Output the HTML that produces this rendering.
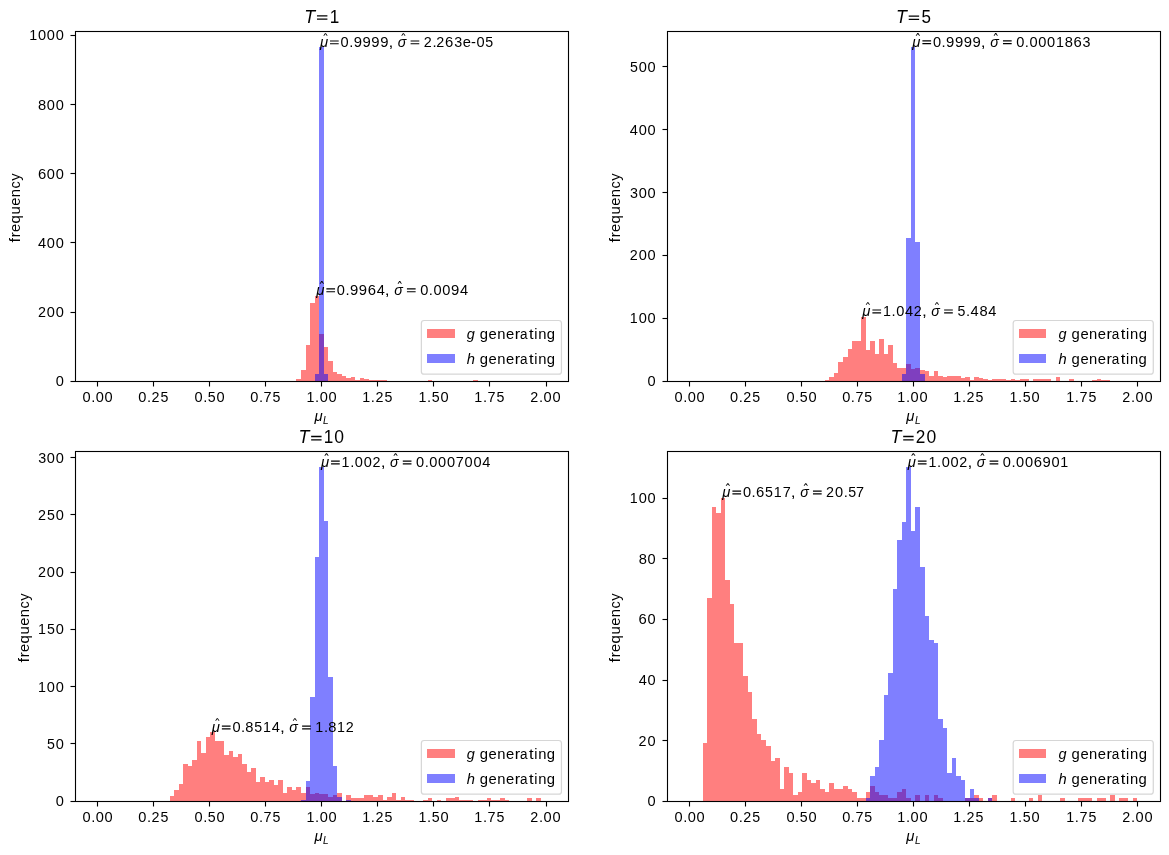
<!DOCTYPE html>
<html><head><meta charset="utf-8"><title>Histograms</title>
<style>html,body{margin:0;padding:0;background:#fff;}svg{display:block;will-change:transform;}</style></head>
<body><svg width="1169" height="855" viewBox="0 0 1169 855"><rect x="0" y="0" width="1169" height="855" fill="#fff"/><path d="M296 381H301V379H296ZM301 381H306V370H301ZM306 381H310V345H306ZM310 381H315V303H310ZM315 381H319V296H315ZM319 381H324V334H319ZM324 381H328V347H324ZM328 381H333V361H328ZM333 381H337V372H333ZM337 381H342V374H337ZM342 381H346V376H342ZM346 381H351V378H346ZM351 381H355V377H351ZM355 381H360V380H355ZM360 381H364V378H360ZM364 381H369V379H364ZM369 381H373V380H369ZM373 381H378V380H373ZM378 381H383V380H378ZM383 381H387V380H383ZM428 381H432V380H428ZM473 381H478V380H473Z" fill="#ff0000" fill-opacity="0.5"/><path d="M315 381H319V374H315ZM319 381H324V47H319ZM324 381H328V374H324Z" fill="#0000ff" fill-opacity="0.5"/><path d="M75 31H569V32H75Z M75 381H569V382H75ZM75 32H76V381H75Z M568 32H569V381H568Z" fill="#000"/><path d="M75 30H569V31H75Z M76 32H568V33H76ZM76 380H568V381H76Z M75 382H569V383H75ZM74 31H75V382H74Z M76 33H77V380H76ZM567 33H568V380H567Z M569 31H570V382H569Z" fill="#000" fill-opacity="0.055"/><path d="M97 382H98V386H97ZM153 382H154V386H153ZM209 382H210V386H209ZM265 382H266V386H265ZM321 382H322V386H321ZM377 382H378V386H377ZM433 382H434V386H433ZM489 382H490V386H489ZM546 382H547V386H546ZM71 381H75V382H71ZM71 312H75V313H71ZM71 242H75V243H71ZM71 173H75V174H71ZM71 104H75V105H71ZM71 35H75V36H71Z" fill="#000"/><path d="M97 386H98V387H97ZM153 386H154V387H153ZM209 386H210V387H209ZM265 386H266V387H265ZM321 386H322V387H321ZM377 386H378V387H377ZM433 386H434V387H433ZM489 386H490V387H489ZM546 386H547V387H546ZM70 381H71V382H70ZM70 312H71V313H70ZM70 242H71V243H70ZM70 173H71V174H70ZM70 104H71V105H70ZM70 35H71V36H70Z" fill="#000" fill-opacity="0.5"/><path d="M96 382H97V386.5H96Z M98 382H99V386.5H98ZM152 382H153V386.5H152Z M154 382H155V386.5H154ZM208 382H209V386.5H208Z M210 382H211V386.5H210ZM264 382H265V386.5H264Z M266 382H267V386.5H266ZM320 382H321V386.5H320Z M322 382H323V386.5H322ZM376 382H377V386.5H376Z M378 382H379V386.5H378ZM432 382H433V386.5H432Z M434 382H435V386.5H434ZM488 382H489V386.5H488Z M490 382H491V386.5H490ZM545 382H546V386.5H545Z M547 382H548V386.5H547ZM70.5 380H75V381H70.5Z M70.5 382H75V383H70.5ZM70.5 311H75V312H70.5Z M70.5 313H75V314H70.5ZM70.5 241H75V242H70.5Z M70.5 243H75V244H70.5ZM70.5 172H75V173H70.5Z M70.5 174H75V175H70.5ZM70.5 103H75V104H70.5Z M70.5 105H75V106H70.5ZM70.5 34H75V35H70.5Z M70.5 36H75V37H70.5Z" fill="#000" fill-opacity="0.055"/><path d="M825 381H829V380H825ZM829 381H834V377H829ZM834 381H838V373H834ZM838 381H843V362H838ZM843 381H848V357H843ZM848 381H852V349H848ZM852 381H857V341H852ZM857 381H861V341H857ZM861 381H866V317H861ZM866 381H870V350H866ZM870 381H875V341H870ZM875 381H879V354H875ZM879 381H884V339H879ZM884 381H888V354H884ZM888 381H893V345H888ZM893 381H897V363H893ZM897 381H902V368H897ZM902 381H906V368H902ZM906 381H911V364H906ZM911 381H915V369H911ZM915 381H920V368H915ZM920 381H925V370H920ZM925 381H929V371H925ZM929 381H934V376H929ZM934 381H938V371H934ZM938 381H943V376H938ZM943 381H947V377H943ZM947 381H952V376H947ZM952 381H956V376H952ZM956 381H961V376H956ZM961 381H965V378H961ZM965 381H970V377H965ZM970 381H974V380H970ZM974 381H979V377H974ZM979 381H983V378H979ZM983 381H988V379H983ZM988 381H992V380H988ZM992 381H997V379H992ZM997 381H1002V379H997ZM1002 381H1006V379H1002ZM1006 381H1011V380H1006ZM1011 381H1015V379H1011ZM1015 381H1020V380H1015ZM1020 381H1024V379H1020ZM1024 381H1029V379H1024ZM1033 381H1038V379H1033ZM1038 381H1042V379H1038ZM1042 381H1047V379H1042ZM1047 381H1051V379H1047ZM1056 381H1060V377H1056ZM1069 381H1074V379H1069ZM1092 381H1097V380H1092ZM1097 381H1101V379H1097ZM1101 381H1106V380H1101ZM1106 381H1110V380H1106Z" fill="#ff0000" fill-opacity="0.5"/><path d="M902 381H906V374H902ZM906 381H911V238H906ZM911 381H915V47H911ZM915 381H920V242H915ZM920 381H925V374H920Z" fill="#0000ff" fill-opacity="0.5"/><path d="M667 31H1161V32H667Z M667 381H1161V382H667ZM667 32H668V381H667Z M1160 32H1161V381H1160Z" fill="#000"/><path d="M667 30H1161V31H667Z M668 32H1160V33H668ZM668 380H1160V381H668Z M667 382H1161V383H667ZM666 31H667V382H666Z M668 33H669V380H668ZM1159 33H1160V380H1159Z M1161 31H1162V382H1161Z" fill="#000" fill-opacity="0.055"/><path d="M689 382H690V386H689ZM745 382H746V386H745ZM801 382H802V386H801ZM857 382H858V386H857ZM913 382H914V386H913ZM969 382H970V386H969ZM1025 382H1026V386H1025ZM1081 382H1082V386H1081ZM1137 382H1138V386H1137ZM663 381H667V382H663ZM663 318H667V319H663ZM663 255H667V256H663ZM663 192H667V193H663ZM663 129H667V130H663ZM663 66H667V67H663Z" fill="#000"/><path d="M689 386H690V387H689ZM745 386H746V387H745ZM801 386H802V387H801ZM857 386H858V387H857ZM913 386H914V387H913ZM969 386H970V387H969ZM1025 386H1026V387H1025ZM1081 386H1082V387H1081ZM1137 386H1138V387H1137ZM662 381H663V382H662ZM662 318H663V319H662ZM662 255H663V256H662ZM662 192H663V193H662ZM662 129H663V130H662ZM662 66H663V67H662Z" fill="#000" fill-opacity="0.5"/><path d="M688 382H689V386.5H688Z M690 382H691V386.5H690ZM744 382H745V386.5H744Z M746 382H747V386.5H746ZM800 382H801V386.5H800Z M802 382H803V386.5H802ZM856 382H857V386.5H856Z M858 382H859V386.5H858ZM912 382H913V386.5H912Z M914 382H915V386.5H914ZM968 382H969V386.5H968Z M970 382H971V386.5H970ZM1024 382H1025V386.5H1024Z M1026 382H1027V386.5H1026ZM1080 382H1081V386.5H1080Z M1082 382H1083V386.5H1082ZM1136 382H1137V386.5H1136Z M1138 382H1139V386.5H1138ZM662.5 380H667V381H662.5Z M662.5 382H667V383H662.5ZM662.5 317H667V318H662.5Z M662.5 319H667V320H662.5ZM662.5 254H667V255H662.5Z M662.5 256H667V257H662.5ZM662.5 191H667V192H662.5Z M662.5 193H667V194H662.5ZM662.5 128H667V129H662.5Z M662.5 130H667V131H662.5ZM662.5 65H667V66H662.5Z M662.5 67H667V68H662.5Z" fill="#000" fill-opacity="0.055"/><path d="M170 801H174V796H170ZM174 801H179V790H174ZM179 801H183V784H179ZM183 801H188V764H183ZM188 801H192V766H188ZM192 801H197V760H192ZM197 801H201V741H197ZM201 801H206V753H201ZM206 801H210V737H206ZM210 801H215V732H210ZM215 801H219V741H215ZM219 801H224V741H219ZM224 801H229V755H224ZM229 801H233V751H229ZM233 801H238V757H233ZM238 801H242V754H238ZM242 801H247V764H242ZM247 801H251V772H247ZM251 801H256V768H251ZM256 801H260V782H256ZM260 801H265V777H260ZM265 801H269V782H265ZM269 801H274V780H269ZM274 801H278V785H274ZM278 801H283V780H278ZM283 801H287V793H283ZM287 801H292V787H287ZM292 801H296V790H292ZM296 801H301V787H296ZM301 801H306V793H301ZM306 801H310V787H306ZM310 801H315V794H310ZM315 801H319V793H315ZM319 801H324V794H319ZM324 801H328V794H324ZM328 801H333V797H328ZM333 801H337V795H333ZM337 801H342V793H337ZM346 801H351V795H346ZM351 801H355V798H351ZM355 801H360V798H355ZM360 801H364V798H360ZM364 801H369V795H364ZM369 801H373V795H369ZM373 801H378V797H373ZM378 801H383V795H378ZM383 801H387V800H383ZM387 801H392V797H387ZM392 801H396V793H392ZM396 801H401V800H396ZM401 801H405V797H401ZM405 801H410V800H405ZM410 801H414V800H410ZM423 801H428V800H423ZM428 801H432V798H428ZM437 801H441V800H437ZM446 801H450V798H446ZM450 801H455V798H450ZM455 801H459V797H455ZM459 801H464V800H459ZM464 801H469V800H464ZM469 801H473V800H469ZM478 801H482V800H478ZM482 801H487V800H482ZM487 801H491V798H487ZM491 801H496V800H491ZM496 801H500V800H496ZM500 801H505V798H500ZM505 801H509V800H505ZM527 801H532V798H527ZM536 801H541V798H536Z" fill="#ff0000" fill-opacity="0.5"/><path d="M301 801H306V800H301ZM306 801H310V781H306ZM310 801H315V697H310ZM315 801H319V557H315ZM319 801H324V467H319ZM324 801H328V521H324ZM328 801H333V677H328ZM333 801H337V766H333ZM337 801H342V797H337ZM346 801H351V800H346Z" fill="#0000ff" fill-opacity="0.5"/><path d="M75 451H569V452H75Z M75 801H569V802H75ZM75 452H76V801H75Z M568 452H569V801H568Z" fill="#000"/><path d="M75 450H569V451H75Z M76 452H568V453H76ZM76 800H568V801H76Z M75 802H569V803H75ZM74 451H75V802H74Z M76 453H77V800H76ZM567 453H568V800H567Z M569 451H570V802H569Z" fill="#000" fill-opacity="0.055"/><path d="M97 802H98V806H97ZM153 802H154V806H153ZM209 802H210V806H209ZM265 802H266V806H265ZM321 802H322V806H321ZM377 802H378V806H377ZM433 802H434V806H433ZM489 802H490V806H489ZM546 802H547V806H546ZM71 801H75V802H71ZM71 743H75V744H71ZM71 686H75V687H71ZM71 629H75V630H71ZM71 572H75V573H71ZM71 514H75V515H71ZM71 457H75V458H71Z" fill="#000"/><path d="M97 806H98V807H97ZM153 806H154V807H153ZM209 806H210V807H209ZM265 806H266V807H265ZM321 806H322V807H321ZM377 806H378V807H377ZM433 806H434V807H433ZM489 806H490V807H489ZM546 806H547V807H546ZM70 801H71V802H70ZM70 743H71V744H70ZM70 686H71V687H70ZM70 629H71V630H70ZM70 572H71V573H70ZM70 514H71V515H70ZM70 457H71V458H70Z" fill="#000" fill-opacity="0.5"/><path d="M96 802H97V806.5H96Z M98 802H99V806.5H98ZM152 802H153V806.5H152Z M154 802H155V806.5H154ZM208 802H209V806.5H208Z M210 802H211V806.5H210ZM264 802H265V806.5H264Z M266 802H267V806.5H266ZM320 802H321V806.5H320Z M322 802H323V806.5H322ZM376 802H377V806.5H376Z M378 802H379V806.5H378ZM432 802H433V806.5H432Z M434 802H435V806.5H434ZM488 802H489V806.5H488Z M490 802H491V806.5H490ZM545 802H546V806.5H545Z M547 802H548V806.5H547ZM70.5 800H75V801H70.5Z M70.5 802H75V803H70.5ZM70.5 742H75V743H70.5Z M70.5 744H75V745H70.5ZM70.5 685H75V686H70.5Z M70.5 687H75V688H70.5ZM70.5 628H75V629H70.5Z M70.5 630H75V631H70.5ZM70.5 571H75V572H70.5Z M70.5 573H75V574H70.5ZM70.5 513H75V514H70.5Z M70.5 515H75V516H70.5ZM70.5 456H75V457H70.5Z M70.5 458H75V459H70.5Z" fill="#000" fill-opacity="0.055"/><path d="M703 801H707V743H703ZM707 801H712V598H707ZM712 801H716V507H712ZM716 801H721V513H716ZM721 801H725V498H721ZM725 801H730V580H725ZM730 801H734V604H730ZM734 801H739V643H734ZM739 801H743V643H739ZM743 801H748V676H743ZM748 801H752V692H748ZM752 801H757V719H752ZM757 801H761V734H757ZM761 801H766V740H761ZM766 801H771V746H766ZM771 801H775V761H771ZM775 801H780V758H775ZM780 801H784V789H780ZM784 801H789V767H784ZM789 801H793V773H789ZM793 801H798V795H793ZM798 801H802V792H798ZM802 801H807V773H802ZM807 801H811V780H807ZM811 801H816V783H811ZM816 801H820V780H816ZM820 801H825V789H820ZM825 801H829V792H825ZM829 801H834V783H829ZM834 801H838V789H834ZM838 801H843V789H838ZM843 801H848V786H843ZM848 801H852V789H848ZM852 801H857V792H852ZM857 801H861V798H857ZM861 801H866V798H861ZM866 801H870V792H866ZM870 801H875V786H870ZM875 801H879V792H875ZM879 801H884V795H879ZM884 801H888V795H884ZM888 801H893V798H888ZM893 801H897V798H893ZM897 801H902V792H897ZM902 801H906V789H902ZM906 801H911V798H906ZM915 801H920V795H915ZM925 801H929V795H925ZM934 801H938V795H934ZM938 801H943V798H938ZM965 801H970V798H965ZM970 801H974V798H970ZM974 801H979V795H974ZM979 801H983V798H979ZM988 801H992V798H988ZM992 801H997V795H992ZM1011 801H1015V798H1011ZM1029 801H1033V798H1029ZM1038 801H1042V795H1038ZM1060 801H1065V798H1060ZM1078 801H1083V798H1078ZM1083 801H1088V798H1083ZM1088 801H1092V798H1088ZM1097 801H1101V798H1097ZM1101 801H1106V798H1101ZM1110 801H1115V795H1110ZM1119 801H1124V798H1119ZM1124 801H1128V798H1124ZM1133 801H1137V798H1133Z" fill="#ff0000" fill-opacity="0.5"/><path d="M866 801H870V798H866ZM870 801H875V776H870ZM875 801H879V767H875ZM879 801H884V740H879ZM884 801H888V695H884ZM888 801H893V673H888ZM893 801H897V589H893ZM897 801H902V540H897ZM902 801H906V522H902ZM906 801H911V467H906ZM911 801H915V531H911ZM915 801H920V507H915ZM920 801H925V567H920ZM925 801H929V616H925ZM929 801H934V640H929ZM934 801H938V643H934ZM938 801H943V719H938ZM943 801H947V728H943ZM947 801H952V773H947ZM952 801H956V758H952ZM956 801H961V776H956ZM961 801H965V780H961ZM965 801H970V798H965ZM970 801H974V789H970ZM974 801H979V798H974ZM988 801H992V798H988Z" fill="#0000ff" fill-opacity="0.5"/><path d="M667 451H1161V452H667Z M667 801H1161V802H667ZM667 452H668V801H667Z M1160 452H1161V801H1160Z" fill="#000"/><path d="M667 450H1161V451H667Z M668 452H1160V453H668ZM668 800H1160V801H668Z M667 802H1161V803H667ZM666 451H667V802H666Z M668 453H669V800H668ZM1159 453H1160V800H1159Z M1161 451H1162V802H1161Z" fill="#000" fill-opacity="0.055"/><path d="M689 802H690V806H689ZM745 802H746V806H745ZM801 802H802V806H801ZM857 802H858V806H857ZM913 802H914V806H913ZM969 802H970V806H969ZM1025 802H1026V806H1025ZM1081 802H1082V806H1081ZM1137 802H1138V806H1137ZM663 801H667V802H663ZM663 740H667V741H663ZM663 680H667V681H663ZM663 619H667V620H663ZM663 558H667V559H663ZM663 498H667V499H663Z" fill="#000"/><path d="M689 806H690V807H689ZM745 806H746V807H745ZM801 806H802V807H801ZM857 806H858V807H857ZM913 806H914V807H913ZM969 806H970V807H969ZM1025 806H1026V807H1025ZM1081 806H1082V807H1081ZM1137 806H1138V807H1137ZM662 801H663V802H662ZM662 740H663V741H662ZM662 680H663V681H662ZM662 619H663V620H662ZM662 558H663V559H662ZM662 498H663V499H662Z" fill="#000" fill-opacity="0.5"/><path d="M688 802H689V806.5H688Z M690 802H691V806.5H690ZM744 802H745V806.5H744Z M746 802H747V806.5H746ZM800 802H801V806.5H800Z M802 802H803V806.5H802ZM856 802H857V806.5H856Z M858 802H859V806.5H858ZM912 802H913V806.5H912Z M914 802H915V806.5H914ZM968 802H969V806.5H968Z M970 802H971V806.5H970ZM1024 802H1025V806.5H1024Z M1026 802H1027V806.5H1026ZM1080 802H1081V806.5H1080Z M1082 802H1083V806.5H1082ZM1136 802H1137V806.5H1136Z M1138 802H1139V806.5H1138ZM662.5 800H667V801H662.5Z M662.5 802H667V803H662.5ZM662.5 739H667V740H662.5Z M662.5 741H667V742H662.5ZM662.5 679H667V680H662.5Z M662.5 681H667V682H662.5ZM662.5 618H667V619H662.5Z M662.5 620H667V621H662.5ZM662.5 557H667V558H662.5Z M662.5 559H667V560H662.5ZM662.5 497H667V498H662.5Z M662.5 499H667V500H662.5Z" fill="#000" fill-opacity="0.055"/><rect x="421.36" y="320.50" width="140.10" height="53.70" rx="2.78" ry="2.78" fill="#fff" fill-opacity="0.8" stroke="#ccc" stroke-opacity="0.8" stroke-width="1.2"/><rect x="427" y="329" width="28" height="9" fill="#ff0000" fill-opacity="0.5"/><rect x="427" y="354" width="28" height="9" fill="#0000ff" fill-opacity="0.5"/><rect x="1013.18" y="320.50" width="140.10" height="53.70" rx="2.78" ry="2.78" fill="#fff" fill-opacity="0.8" stroke="#ccc" stroke-opacity="0.8" stroke-width="1.2"/><rect x="1019" y="329" width="27" height="9" fill="#ff0000" fill-opacity="0.5"/><rect x="1019" y="354" width="27" height="9" fill="#0000ff" fill-opacity="0.5"/><rect x="421.36" y="740.50" width="140.10" height="53.70" rx="2.78" ry="2.78" fill="#fff" fill-opacity="0.8" stroke="#ccc" stroke-opacity="0.8" stroke-width="1.2"/><rect x="427" y="749" width="28" height="9" fill="#ff0000" fill-opacity="0.5"/><rect x="427" y="774" width="28" height="9" fill="#0000ff" fill-opacity="0.5"/><rect x="1013.18" y="740.50" width="140.10" height="53.70" rx="2.78" ry="2.78" fill="#fff" fill-opacity="0.8" stroke="#ccc" stroke-opacity="0.8" stroke-width="1.2"/><rect x="1019" y="749" width="27" height="9" fill="#ff0000" fill-opacity="0.5"/><rect x="1019" y="774" width="27" height="9" fill="#0000ff" fill-opacity="0.5"/><g style="font-family: 'Liberation Sans', sans-serif;" fill="#000"><g id="text_1"><text transform="translate(86.61 0) scale(1.002 1) translate(-86.61 0)" x="82.55" y="402.31" font-size="14.58">0</text><text transform="translate(93.23 0) scale(1.015 1) translate(-93.23 0)" x="91.21" y="402.31" font-size="14.58">.</text><text transform="translate(99.86 0) scale(1.002 1) translate(-99.86 0)" x="95.81" y="402.31" font-size="14.58">0</text><text transform="translate(108.70 0) scale(1.002 1) translate(-108.70 0)" x="104.64" y="402.31" font-size="14.58">0</text></g><g id="text_2"><text transform="translate(142.31 0) scale(1.002 1) translate(-142.31 0)" x="138.26" y="402.31" font-size="14.58">0</text><text transform="translate(148.94 0) scale(1.015 1) translate(-148.94 0)" x="146.91" y="402.31" font-size="14.58">.</text><text transform="translate(155.38 0) scale(0.984 1) translate(-155.38 0)" x="151.33" y="402.31" font-size="14.58">2</text><text transform="translate(164.33 0) scale(0.974 1) translate(-164.33 0)" x="160.29" y="402.31" font-size="14.58">5</text></g><g id="text_3"><text transform="translate(198.58 0) scale(1.002 1) translate(-198.58 0)" x="194.52" y="402.31" font-size="14.58">0</text><text transform="translate(205.20 0) scale(1.015 1) translate(-205.20 0)" x="203.17" y="402.31" font-size="14.58">.</text><text transform="translate(211.76 0) scale(0.974 1) translate(-211.76 0)" x="207.72" y="402.31" font-size="14.58">5</text><text transform="translate(220.66 0) scale(1.002 1) translate(-220.66 0)" x="216.61" y="402.31" font-size="14.58">0</text></g><g id="text_4"><text transform="translate(254.34 0) scale(1.002 1) translate(-254.34 0)" x="250.28" y="402.31" font-size="14.58">0</text><text transform="translate(260.96 0) scale(1.015 1) translate(-260.96 0)" x="258.94" y="402.31" font-size="14.58">.</text><text transform="translate(267.57 0) scale(0.991 1) translate(-267.57 0)" x="263.51" y="402.31" font-size="14.58">7</text><text transform="translate(276.36 0) scale(0.974 1) translate(-276.36 0)" x="272.32" y="402.31" font-size="14.58">5</text></g><g id="text_5"><text transform="translate(310.60 0) scale(0.979 1) translate(-310.60 0)" x="306.34" y="402.31" font-size="14.58">1</text><text transform="translate(317.09 0) scale(1.015 1) translate(-317.09 0)" x="315.07" y="402.31" font-size="14.58">.</text><text transform="translate(323.72 0) scale(1.002 1) translate(-323.72 0)" x="319.67" y="402.31" font-size="14.58">0</text><text transform="translate(332.56 0) scale(1.002 1) translate(-332.56 0)" x="328.51" y="402.31" font-size="14.58">0</text></g><g id="text_6"><text transform="translate(366.44 0) scale(0.979 1) translate(-366.44 0)" x="362.19" y="402.31" font-size="14.58">1</text><text transform="translate(372.94 0) scale(1.015 1) translate(-372.94 0)" x="370.91" y="402.31" font-size="14.58">.</text><text transform="translate(379.38 0) scale(0.984 1) translate(-379.38 0)" x="375.33" y="402.31" font-size="14.58">2</text><text transform="translate(388.34 0) scale(0.974 1) translate(-388.34 0)" x="384.29" y="402.31" font-size="14.58">5</text></g><g id="text_7"><text transform="translate(422.67 0) scale(0.979 1) translate(-422.67 0)" x="418.42" y="402.31" font-size="14.58">1</text><text transform="translate(429.17 0) scale(1.015 1) translate(-429.17 0)" x="427.15" y="402.31" font-size="14.58">.</text><text transform="translate(435.73 0) scale(0.974 1) translate(-435.73 0)" x="431.69" y="402.31" font-size="14.58">5</text><text transform="translate(444.64 0) scale(1.002 1) translate(-444.64 0)" x="440.58" y="402.31" font-size="14.58">0</text></g><g id="text_8"><text transform="translate(478.50 0) scale(0.979 1) translate(-478.50 0)" x="474.24" y="402.31" font-size="14.58">1</text><text transform="translate(484.99 0) scale(1.015 1) translate(-484.99 0)" x="482.97" y="402.31" font-size="14.58">.</text><text transform="translate(491.60 0) scale(0.991 1) translate(-491.60 0)" x="487.54" y="402.31" font-size="14.58">7</text><text transform="translate(500.39 0) scale(0.974 1) translate(-500.39 0)" x="496.35" y="402.31" font-size="14.58">5</text></g><g id="text_9"><text transform="translate(534.22 0) scale(0.984 1) translate(-534.22 0)" x="530.17" y="402.31" font-size="14.58">2</text><text transform="translate(541.03 0) scale(1.015 1) translate(-541.03 0)" x="539.00" y="402.31" font-size="14.58">.</text><text transform="translate(547.66 0) scale(1.002 1) translate(-547.66 0)" x="543.60" y="402.31" font-size="14.58">0</text><text transform="translate(556.49 0) scale(1.002 1) translate(-556.49 0)" x="552.44" y="402.31" font-size="14.58">0</text></g><g id="text_10"><text transform="translate(318.27 0) scale(1.021 1) translate(-318.27 0)" x="314.54" y="421.24" font-size="14.58" font-style="italic">μ</text><text transform="translate(325.63 0) scale(0.992 1) translate(-325.63 0)" x="322.99" y="423.52" font-size="10.21" font-style="italic">L</text></g><g id="text_11"><text transform="translate(59.78 0) scale(1.002 1) translate(-59.78 0)" x="55.72" y="386.35" font-size="14.58">0</text></g><g id="text_12"><text transform="translate(41.92 0) scale(0.984 1) translate(-41.92 0)" x="37.86" y="317.21" font-size="14.58">2</text><text transform="translate(50.94 0) scale(1.002 1) translate(-50.94 0)" x="46.88" y="317.21" font-size="14.58">0</text><text transform="translate(59.78 0) scale(1.002 1) translate(-59.78 0)" x="55.72" y="317.21" font-size="14.58">0</text></g><g id="text_13"><text transform="translate(42.06 0) scale(1.002 1) translate(-42.06 0)" x="38.05" y="247.64" font-size="14.58">4</text><text transform="translate(50.94 0) scale(1.002 1) translate(-50.94 0)" x="46.88" y="247.64" font-size="14.58">0</text><text transform="translate(59.78 0) scale(1.002 1) translate(-59.78 0)" x="55.72" y="247.64" font-size="14.58">0</text></g><g id="text_14"><text transform="translate(42.15 0) scale(1.020 1) translate(-42.15 0)" x="38.05" y="179.39" font-size="14.58">6</text><text transform="translate(50.94 0) scale(1.002 1) translate(-50.94 0)" x="46.88" y="179.39" font-size="14.58">0</text><text transform="translate(59.78 0) scale(1.002 1) translate(-59.78 0)" x="55.72" y="179.39" font-size="14.58">0</text></g><g id="text_15"><text transform="translate(42.10 0) scale(1.007 1) translate(-42.10 0)" x="38.05" y="110.48" font-size="14.58">8</text><text transform="translate(50.94 0) scale(1.002 1) translate(-50.94 0)" x="46.88" y="110.48" font-size="14.58">0</text><text transform="translate(59.78 0) scale(1.002 1) translate(-59.78 0)" x="55.72" y="110.48" font-size="14.58">0</text></g><g id="text_16"><text transform="translate(33.39 0) scale(0.979 1) translate(-33.39 0)" x="29.14" y="40.22" font-size="14.58">1</text><text transform="translate(42.10 0) scale(1.002 1) translate(-42.10 0)" x="38.05" y="40.22" font-size="14.58">0</text><text transform="translate(50.94 0) scale(1.002 1) translate(-50.94 0)" x="46.88" y="40.22" font-size="14.58">0</text><text transform="translate(59.78 0) scale(1.002 1) translate(-59.78 0)" x="55.72" y="40.22" font-size="14.58">0</text></g><g id="text_17" transform="translate(20.39 207.82) rotate(-90.0)"><text transform="translate(-32.25 0) scale(1.125 1) translate(32.25 0)" x="-34.39" y="0.00" font-size="14.58">f</text><text transform="translate(-26.61 0) scale(1.110 1) translate(26.61 0)" x="-29.40" y="0.00" font-size="14.58">r</text><text transform="translate(-20.10 0) scale(1.014 1) translate(20.10 0)" x="-24.14" y="0.00" font-size="14.58">e</text><text transform="translate(-11.68 0) scale(1.017 1) translate(11.68 0)" x="-15.57" y="0.00" font-size="14.58">q</text><text transform="translate(-2.66 0) scale(1.013 1) translate(2.66 0)" x="-6.71" y="0.00" font-size="14.58">u</text><text transform="translate(6.07 0) scale(1.014 1) translate(-6.07 0)" x="2.03" y="0.00" font-size="14.58">e</text><text transform="translate(14.77 0) scale(1.013 1) translate(-14.77 0)" x="10.70" y="0.00" font-size="14.58">n</text><text transform="translate(22.90 0) scale(0.978 1) translate(-22.90 0)" x="19.14" y="0.00" font-size="14.58">c</text><text transform="translate(30.87 0) scale(1.011 1) translate(-30.87 0)" x="27.22" y="0.00" font-size="14.58">y</text></g><g id="text_18"><path d="M326.37 288.37H335.06V289.51H326.37Z M326.37 291.14H335.06V292.29H326.37Z"/><polygon points="321.32,281.11 322.33,281.11 323.99,283.66 323.05,283.66 321.83,282.00 320.60,283.66 319.66,283.66"/><text transform="translate(340.95 0) scale(1.002 1) translate(-340.95 0)" x="336.89" y="294.68" font-size="14.58">0</text><text transform="translate(347.57 0) scale(1.015 1) translate(-347.57 0)" x="345.54" y="294.68" font-size="14.58">.</text><text transform="translate(354.15 0) scale(1.018 1) translate(-354.15 0)" x="350.10" y="294.68" font-size="14.58">9</text><text transform="translate(362.99 0) scale(1.018 1) translate(-362.99 0)" x="358.93" y="294.68" font-size="14.58">9</text><text transform="translate(371.92 0) scale(1.020 1) translate(-371.92 0)" x="367.82" y="294.68" font-size="14.58">6</text><text transform="translate(380.66 0) scale(1.002 1) translate(-380.66 0)" x="376.65" y="294.68" font-size="14.58">4</text><text transform="translate(387.19 0) scale(1.194 1) translate(-387.19 0)" x="385.17" y="294.68" font-size="14.58">,</text><polygon points="399.22,281.11 400.22,281.11 401.88,283.66 400.94,283.66 399.72,282.00 398.50,283.66 397.55,283.66"/><path d="M406.94 288.37H415.63V289.51H406.94Z M406.94 291.14H415.63V292.29H406.94Z"/><text transform="translate(424.22 0) scale(1.002 1) translate(-424.22 0)" x="420.17" y="294.68" font-size="14.58">0</text><text transform="translate(430.85 0) scale(1.015 1) translate(-430.85 0)" x="428.82" y="294.68" font-size="14.58">.</text><text transform="translate(437.48 0) scale(1.002 1) translate(-437.48 0)" x="433.42" y="294.68" font-size="14.58">0</text><text transform="translate(446.31 0) scale(1.002 1) translate(-446.31 0)" x="442.26" y="294.68" font-size="14.58">0</text><text transform="translate(455.10 0) scale(1.018 1) translate(-455.10 0)" x="451.05" y="294.68" font-size="14.58">9</text><text transform="translate(463.94 0) scale(1.002 1) translate(-463.94 0)" x="459.93" y="294.68" font-size="14.58">4</text><text transform="translate(320.08 0) scale(1.021 1) translate(-320.08 0)" x="316.35" y="294.68" font-size="14.58" font-style="italic">μ</text><text transform="translate(398.93 0) scale(0.977 1) translate(-398.93 0)" x="394.06" y="294.68" font-size="14.58" font-style="italic">σ</text></g><g id="text_19"><path d="M330.01 40.42H338.71V41.56H330.01Z M330.01 43.19H338.71V44.34H330.01Z"/><polygon points="324.97,33.16 325.98,33.16 327.64,35.71 326.69,35.71 325.47,34.05 324.25,35.71 323.31,35.71"/><text transform="translate(344.59 0) scale(1.002 1) translate(-344.59 0)" x="340.54" y="46.73" font-size="14.58">0</text><text transform="translate(351.22 0) scale(1.015 1) translate(-351.22 0)" x="349.19" y="46.73" font-size="14.58">.</text><text transform="translate(357.80 0) scale(1.018 1) translate(-357.80 0)" x="353.75" y="46.73" font-size="14.58">9</text><text transform="translate(366.63 0) scale(1.018 1) translate(-366.63 0)" x="362.58" y="46.73" font-size="14.58">9</text><text transform="translate(375.47 0) scale(1.018 1) translate(-375.47 0)" x="371.42" y="46.73" font-size="14.58">9</text><text transform="translate(384.31 0) scale(1.018 1) translate(-384.31 0)" x="380.26" y="46.73" font-size="14.58">9</text><text transform="translate(390.84 0) scale(1.194 1) translate(-390.84 0)" x="388.82" y="46.73" font-size="14.58">,</text><polygon points="402.86,33.16 403.87,33.16 405.53,35.71 404.59,35.71 403.37,34.05 402.15,35.71 401.20,35.71"/><path d="M410.59 40.42H419.28V41.56H410.59Z M410.59 43.19H419.28V44.34H410.59Z"/><text transform="translate(427.69 0) scale(0.984 1) translate(-427.69 0)" x="423.64" y="46.73" font-size="14.58">2</text><text transform="translate(434.50 0) scale(1.015 1) translate(-434.50 0)" x="432.47" y="46.73" font-size="14.58">.</text><text transform="translate(440.25 0) scale(0.984 1) translate(-440.25 0)" x="436.19" y="46.73" font-size="14.58">2</text><text transform="translate(449.32 0) scale(1.020 1) translate(-449.32 0)" x="445.21" y="46.73" font-size="14.58">6</text><text transform="translate(458.08 0) scale(0.982 1) translate(-458.08 0)" x="454.07" y="46.73" font-size="14.58">3</text><text transform="translate(466.81 0) scale(1.014 1) translate(-466.81 0)" x="462.77" y="46.73" font-size="14.58">e</text><text transform="translate(473.58 0) scale(1.013 1) translate(-473.58 0)" x="471.15" y="46.73" font-size="14.58">-</text><text transform="translate(480.50 0) scale(1.002 1) translate(-480.50 0)" x="476.44" y="46.73" font-size="14.58">0</text><text transform="translate(489.27 0) scale(0.974 1) translate(-489.27 0)" x="485.22" y="46.73" font-size="14.58">5</text><text transform="translate(323.72 0) scale(1.021 1) translate(-323.72 0)" x="320.00" y="46.73" font-size="14.58" font-style="italic">μ</text><text transform="translate(402.58 0) scale(0.977 1) translate(-402.58 0)" x="397.71" y="46.73" font-size="14.58" font-style="italic">σ</text></g><g id="text_20"><text transform="translate(311.02 0) scale(1.019 1) translate(-311.02 0)" x="304.37" y="22.70" font-size="17.50" font-style="italic">T</text><path d="M316.98 15.13H327.41V16.50H316.98Z M316.98 18.45H327.41V19.83H316.98Z"/><text transform="translate(334.63 0) scale(0.979 1) translate(-334.63 0)" x="329.52" y="22.70" font-size="17.50">1</text></g><g id="text_23"><text transform="translate(678.60 0) scale(1.002 1) translate(-678.60 0)" x="674.54" y="402.31" font-size="14.58">0</text><text transform="translate(685.22 0) scale(1.015 1) translate(-685.22 0)" x="683.20" y="402.31" font-size="14.58">.</text><text transform="translate(691.85 0) scale(1.002 1) translate(-691.85 0)" x="687.80" y="402.31" font-size="14.58">0</text><text transform="translate(700.69 0) scale(1.002 1) translate(-700.69 0)" x="696.63" y="402.31" font-size="14.58">0</text></g><g id="text_24"><text transform="translate(734.18 0) scale(1.002 1) translate(-734.18 0)" x="730.13" y="402.31" font-size="14.58">0</text><text transform="translate(740.81 0) scale(1.015 1) translate(-740.81 0)" x="738.78" y="402.31" font-size="14.58">.</text><text transform="translate(747.25 0) scale(0.984 1) translate(-747.25 0)" x="743.20" y="402.31" font-size="14.58">2</text><text transform="translate(756.20 0) scale(0.974 1) translate(-756.20 0)" x="752.16" y="402.31" font-size="14.58">5</text></g><g id="text_25"><text transform="translate(790.58 0) scale(1.002 1) translate(-790.58 0)" x="786.52" y="402.31" font-size="14.58">0</text><text transform="translate(797.20 0) scale(1.015 1) translate(-797.20 0)" x="795.17" y="402.31" font-size="14.58">.</text><text transform="translate(803.76 0) scale(0.974 1) translate(-803.76 0)" x="799.72" y="402.31" font-size="14.58">5</text><text transform="translate(812.66 0) scale(1.002 1) translate(-812.66 0)" x="808.61" y="402.31" font-size="14.58">0</text></g><g id="text_26"><text transform="translate(846.27 0) scale(1.002 1) translate(-846.27 0)" x="842.21" y="402.31" font-size="14.58">0</text><text transform="translate(852.89 0) scale(1.015 1) translate(-852.89 0)" x="850.87" y="402.31" font-size="14.58">.</text><text transform="translate(859.50 0) scale(0.991 1) translate(-859.50 0)" x="855.44" y="402.31" font-size="14.58">7</text><text transform="translate(868.29 0) scale(0.974 1) translate(-868.29 0)" x="864.25" y="402.31" font-size="14.58">5</text></g><g id="text_27"><text transform="translate(901.55 0) scale(0.979 1) translate(-901.55 0)" x="897.29" y="402.31" font-size="14.58">1</text><text transform="translate(908.04 0) scale(1.015 1) translate(-908.04 0)" x="906.02" y="402.31" font-size="14.58">.</text><text transform="translate(914.67 0) scale(1.002 1) translate(-914.67 0)" x="910.62" y="402.31" font-size="14.58">0</text><text transform="translate(923.51 0) scale(1.002 1) translate(-923.51 0)" x="919.46" y="402.31" font-size="14.58">0</text></g><g id="text_28"><text transform="translate(957.48 0) scale(0.979 1) translate(-957.48 0)" x="953.23" y="402.31" font-size="14.58">1</text><text transform="translate(963.98 0) scale(1.015 1) translate(-963.98 0)" x="961.95" y="402.31" font-size="14.58">.</text><text transform="translate(970.42 0) scale(0.984 1) translate(-970.42 0)" x="966.37" y="402.31" font-size="14.58">2</text><text transform="translate(979.38 0) scale(0.974 1) translate(-979.38 0)" x="975.33" y="402.31" font-size="14.58">5</text></g><g id="text_29"><text transform="translate(1013.67 0) scale(0.979 1) translate(-1013.67 0)" x="1009.42" y="402.31" font-size="14.58">1</text><text transform="translate(1020.17 0) scale(1.015 1) translate(-1020.17 0)" x="1018.15" y="402.31" font-size="14.58">.</text><text transform="translate(1026.73 0) scale(0.974 1) translate(-1026.73 0)" x="1022.69" y="402.31" font-size="14.58">5</text><text transform="translate(1035.64 0) scale(1.002 1) translate(-1035.64 0)" x="1031.58" y="402.31" font-size="14.58">0</text></g><g id="text_30"><text transform="translate(1070.43 0) scale(0.979 1) translate(-1070.43 0)" x="1066.18" y="402.31" font-size="14.58">1</text><text transform="translate(1076.93 0) scale(1.015 1) translate(-1076.93 0)" x="1074.90" y="402.31" font-size="14.58">.</text><text transform="translate(1083.54 0) scale(0.991 1) translate(-1083.54 0)" x="1079.48" y="402.31" font-size="14.58">7</text><text transform="translate(1092.33 0) scale(0.974 1) translate(-1092.33 0)" x="1088.29" y="402.31" font-size="14.58">5</text></g><g id="text_31"><text transform="translate(1126.22 0) scale(0.984 1) translate(-1126.22 0)" x="1122.17" y="402.31" font-size="14.58">2</text><text transform="translate(1133.03 0) scale(1.015 1) translate(-1133.03 0)" x="1131.00" y="402.31" font-size="14.58">.</text><text transform="translate(1139.66 0) scale(1.002 1) translate(-1139.66 0)" x="1135.60" y="402.31" font-size="14.58">0</text><text transform="translate(1148.49 0) scale(1.002 1) translate(-1148.49 0)" x="1144.44" y="402.31" font-size="14.58">0</text></g><g id="text_32"><text transform="translate(910.18 0) scale(1.021 1) translate(-910.18 0)" x="906.45" y="421.26" font-size="14.58" font-style="italic">μ</text><text transform="translate(917.54 0) scale(0.992 1) translate(-917.54 0)" x="914.90" y="423.54" font-size="10.21" font-style="italic">L</text></g><g id="text_33"><text transform="translate(651.60 0) scale(1.002 1) translate(-651.60 0)" x="647.54" y="386.34" font-size="14.58">0</text></g><g id="text_34"><text transform="translate(634.05 0) scale(0.979 1) translate(-634.05 0)" x="629.79" y="322.93" font-size="14.58">1</text><text transform="translate(642.76 0) scale(1.002 1) translate(-642.76 0)" x="638.70" y="322.93" font-size="14.58">0</text><text transform="translate(651.60 0) scale(1.002 1) translate(-651.60 0)" x="647.54" y="322.93" font-size="14.58">0</text></g><g id="text_35"><text transform="translate(633.74 0) scale(0.984 1) translate(-633.74 0)" x="629.68" y="260.08" font-size="14.58">2</text><text transform="translate(642.76 0) scale(1.002 1) translate(-642.76 0)" x="638.70" y="260.08" font-size="14.58">0</text><text transform="translate(651.60 0) scale(1.002 1) translate(-651.60 0)" x="647.54" y="260.08" font-size="14.58">0</text></g><g id="text_36"><text transform="translate(633.90 0) scale(0.982 1) translate(-633.90 0)" x="629.89" y="197.78" font-size="14.58">3</text><text transform="translate(642.76 0) scale(1.002 1) translate(-642.76 0)" x="638.70" y="197.78" font-size="14.58">0</text><text transform="translate(651.60 0) scale(1.002 1) translate(-651.60 0)" x="647.54" y="197.78" font-size="14.58">0</text></g><g id="text_37"><text transform="translate(633.88 0) scale(1.002 1) translate(-633.88 0)" x="629.87" y="134.84" font-size="14.58">4</text><text transform="translate(642.76 0) scale(1.002 1) translate(-642.76 0)" x="638.70" y="134.84" font-size="14.58">0</text><text transform="translate(651.60 0) scale(1.002 1) translate(-651.60 0)" x="647.54" y="134.84" font-size="14.58">0</text></g><g id="text_38"><text transform="translate(633.86 0) scale(0.974 1) translate(-633.86 0)" x="629.81" y="72.23" font-size="14.58">5</text><text transform="translate(642.76 0) scale(1.002 1) translate(-642.76 0)" x="638.70" y="72.23" font-size="14.58">0</text><text transform="translate(651.60 0) scale(1.002 1) translate(-651.60 0)" x="647.54" y="72.23" font-size="14.58">0</text></g><g id="text_39" transform="translate(620.04 207.82) rotate(-90.0)"><text transform="translate(-32.25 0) scale(1.125 1) translate(32.25 0)" x="-34.39" y="0.00" font-size="14.58">f</text><text transform="translate(-26.61 0) scale(1.110 1) translate(26.61 0)" x="-29.40" y="0.00" font-size="14.58">r</text><text transform="translate(-20.10 0) scale(1.014 1) translate(20.10 0)" x="-24.14" y="0.00" font-size="14.58">e</text><text transform="translate(-11.68 0) scale(1.017 1) translate(11.68 0)" x="-15.57" y="0.00" font-size="14.58">q</text><text transform="translate(-2.66 0) scale(1.013 1) translate(2.66 0)" x="-6.71" y="0.00" font-size="14.58">u</text><text transform="translate(6.07 0) scale(1.014 1) translate(-6.07 0)" x="2.03" y="0.00" font-size="14.58">e</text><text transform="translate(14.77 0) scale(1.013 1) translate(-14.77 0)" x="10.70" y="0.00" font-size="14.58">n</text><text transform="translate(22.90 0) scale(0.978 1) translate(-22.90 0)" x="19.14" y="0.00" font-size="14.58">c</text><text transform="translate(30.87 0) scale(1.011 1) translate(-30.87 0)" x="27.22" y="0.00" font-size="14.58">y</text></g><g id="text_40"><path d="M872.39 309.47H881.08V310.61H872.39Z M872.39 312.23H881.08V313.39H872.39Z"/><polygon points="867.35,302.20 868.35,302.20 870.01,304.75 869.07,304.75 867.85,303.09 866.63,304.75 865.68,304.75"/><text transform="translate(887.09 0) scale(0.979 1) translate(-887.09 0)" x="882.84" y="315.77" font-size="14.58">1</text><text transform="translate(893.59 0) scale(1.015 1) translate(-893.59 0)" x="891.56" y="315.77" font-size="14.58">.</text><text transform="translate(900.22 0) scale(1.002 1) translate(-900.22 0)" x="896.16" y="315.77" font-size="14.58">0</text><text transform="translate(909.01 0) scale(1.002 1) translate(-909.01 0)" x="905.00" y="315.77" font-size="14.58">4</text><text transform="translate(917.71 0) scale(0.984 1) translate(-917.71 0)" x="913.65" y="315.77" font-size="14.58">2</text><text transform="translate(924.38 0) scale(1.194 1) translate(-924.38 0)" x="922.35" y="315.77" font-size="14.58">,</text><polygon points="936.40,302.20 937.41,302.20 939.07,304.75 938.12,304.75 936.90,303.09 935.68,304.75 934.74,304.75"/><path d="M944.12 309.47H952.82V310.61H944.12Z M944.12 312.23H952.82V313.39H944.12Z"/><text transform="translate(961.34 0) scale(0.974 1) translate(-961.34 0)" x="957.30" y="315.77" font-size="14.58">5</text><text transform="translate(968.03 0) scale(1.015 1) translate(-968.03 0)" x="966.01" y="315.77" font-size="14.58">.</text><text transform="translate(974.61 0) scale(1.002 1) translate(-974.61 0)" x="970.61" y="315.77" font-size="14.58">4</text><text transform="translate(983.50 0) scale(1.007 1) translate(-983.50 0)" x="979.44" y="315.77" font-size="14.58">8</text><text transform="translate(992.29 0) scale(1.002 1) translate(-992.29 0)" x="988.28" y="315.77" font-size="14.58">4</text><text transform="translate(866.10 0) scale(1.021 1) translate(-866.10 0)" x="862.37" y="315.77" font-size="14.58" font-style="italic">μ</text><text transform="translate(936.12 0) scale(0.977 1) translate(-936.12 0)" x="931.25" y="315.77" font-size="14.58" font-style="italic">σ</text></g><g id="text_41"><path d="M922.40 40.34H931.10V41.48H922.40Z M922.40 43.11H931.10V44.26H922.40Z"/><polygon points="917.36,33.08 918.37,33.08 920.03,35.63 919.08,35.63 917.86,33.97 916.64,35.63 915.70,35.63"/><text transform="translate(936.98 0) scale(1.002 1) translate(-936.98 0)" x="932.93" y="46.65" font-size="14.58">0</text><text transform="translate(943.61 0) scale(1.015 1) translate(-943.61 0)" x="941.58" y="46.65" font-size="14.58">.</text><text transform="translate(950.19 0) scale(1.018 1) translate(-950.19 0)" x="946.14" y="46.65" font-size="14.58">9</text><text transform="translate(959.02 0) scale(1.018 1) translate(-959.02 0)" x="954.97" y="46.65" font-size="14.58">9</text><text transform="translate(967.86 0) scale(1.018 1) translate(-967.86 0)" x="963.81" y="46.65" font-size="14.58">9</text><text transform="translate(976.70 0) scale(1.018 1) translate(-976.70 0)" x="972.65" y="46.65" font-size="14.58">9</text><text transform="translate(983.23 0) scale(1.194 1) translate(-983.23 0)" x="981.21" y="46.65" font-size="14.58">,</text><polygon points="995.25,33.08 996.26,33.08 997.92,35.63 996.98,35.63 995.76,33.97 994.54,35.63 993.59,35.63"/><path d="M1002.98 40.34H1011.67V41.48H1002.98Z M1002.98 43.11H1011.67V44.26H1002.98Z"/><text transform="translate(1020.26 0) scale(1.002 1) translate(-1020.26 0)" x="1016.21" y="46.65" font-size="14.58">0</text><text transform="translate(1026.89 0) scale(1.015 1) translate(-1026.89 0)" x="1024.86" y="46.65" font-size="14.58">.</text><text transform="translate(1033.51 0) scale(1.002 1) translate(-1033.51 0)" x="1029.46" y="46.65" font-size="14.58">0</text><text transform="translate(1042.35 0) scale(1.002 1) translate(-1042.35 0)" x="1038.30" y="46.65" font-size="14.58">0</text><text transform="translate(1051.19 0) scale(1.002 1) translate(-1051.19 0)" x="1047.13" y="46.65" font-size="14.58">0</text><text transform="translate(1060.15 0) scale(0.979 1) translate(-1060.15 0)" x="1055.90" y="46.65" font-size="14.58">1</text><text transform="translate(1068.86 0) scale(1.007 1) translate(-1068.86 0)" x="1064.81" y="46.65" font-size="14.58">8</text><text transform="translate(1077.75 0) scale(1.020 1) translate(-1077.75 0)" x="1073.64" y="46.65" font-size="14.58">6</text><text transform="translate(1086.51 0) scale(0.982 1) translate(-1086.51 0)" x="1082.50" y="46.65" font-size="14.58">3</text><text transform="translate(916.11 0) scale(1.021 1) translate(-916.11 0)" x="912.39" y="46.65" font-size="14.58" font-style="italic">μ</text><text transform="translate(994.97 0) scale(0.977 1) translate(-994.97 0)" x="990.10" y="46.65" font-size="14.58" font-style="italic">σ</text></g><g id="text_42"><text transform="translate(902.75 0) scale(1.019 1) translate(-902.75 0)" x="896.10" y="22.97" font-size="17.50" font-style="italic">T</text><path d="M908.71 15.40H919.14V16.77H908.71Z M908.71 18.72H919.14V20.10H908.71Z"/><text transform="translate(926.13 0) scale(0.974 1) translate(-926.13 0)" x="921.28" y="22.97" font-size="17.50">5</text></g><g id="text_45"><text transform="translate(86.61 0) scale(1.002 1) translate(-86.61 0)" x="82.55" y="822.31" font-size="14.58">0</text><text transform="translate(93.23 0) scale(1.015 1) translate(-93.23 0)" x="91.21" y="822.31" font-size="14.58">.</text><text transform="translate(99.86 0) scale(1.002 1) translate(-99.86 0)" x="95.81" y="822.31" font-size="14.58">0</text><text transform="translate(108.70 0) scale(1.002 1) translate(-108.70 0)" x="104.64" y="822.31" font-size="14.58">0</text></g><g id="text_46"><text transform="translate(142.31 0) scale(1.002 1) translate(-142.31 0)" x="138.26" y="822.31" font-size="14.58">0</text><text transform="translate(148.94 0) scale(1.015 1) translate(-148.94 0)" x="146.91" y="822.31" font-size="14.58">.</text><text transform="translate(155.38 0) scale(0.984 1) translate(-155.38 0)" x="151.33" y="822.31" font-size="14.58">2</text><text transform="translate(164.33 0) scale(0.974 1) translate(-164.33 0)" x="160.29" y="822.31" font-size="14.58">5</text></g><g id="text_47"><text transform="translate(198.58 0) scale(1.002 1) translate(-198.58 0)" x="194.52" y="822.31" font-size="14.58">0</text><text transform="translate(205.20 0) scale(1.015 1) translate(-205.20 0)" x="203.17" y="822.31" font-size="14.58">.</text><text transform="translate(211.76 0) scale(0.974 1) translate(-211.76 0)" x="207.72" y="822.31" font-size="14.58">5</text><text transform="translate(220.66 0) scale(1.002 1) translate(-220.66 0)" x="216.61" y="822.31" font-size="14.58">0</text></g><g id="text_48"><text transform="translate(254.34 0) scale(1.002 1) translate(-254.34 0)" x="250.28" y="822.31" font-size="14.58">0</text><text transform="translate(260.96 0) scale(1.015 1) translate(-260.96 0)" x="258.94" y="822.31" font-size="14.58">.</text><text transform="translate(267.57 0) scale(0.991 1) translate(-267.57 0)" x="263.51" y="822.31" font-size="14.58">7</text><text transform="translate(276.36 0) scale(0.974 1) translate(-276.36 0)" x="272.32" y="822.31" font-size="14.58">5</text></g><g id="text_49"><text transform="translate(310.60 0) scale(0.979 1) translate(-310.60 0)" x="306.34" y="822.31" font-size="14.58">1</text><text transform="translate(317.09 0) scale(1.015 1) translate(-317.09 0)" x="315.07" y="822.31" font-size="14.58">.</text><text transform="translate(323.72 0) scale(1.002 1) translate(-323.72 0)" x="319.67" y="822.31" font-size="14.58">0</text><text transform="translate(332.56 0) scale(1.002 1) translate(-332.56 0)" x="328.51" y="822.31" font-size="14.58">0</text></g><g id="text_50"><text transform="translate(366.44 0) scale(0.979 1) translate(-366.44 0)" x="362.19" y="822.31" font-size="14.58">1</text><text transform="translate(372.94 0) scale(1.015 1) translate(-372.94 0)" x="370.91" y="822.31" font-size="14.58">.</text><text transform="translate(379.38 0) scale(0.984 1) translate(-379.38 0)" x="375.33" y="822.31" font-size="14.58">2</text><text transform="translate(388.34 0) scale(0.974 1) translate(-388.34 0)" x="384.29" y="822.31" font-size="14.58">5</text></g><g id="text_51"><text transform="translate(422.67 0) scale(0.979 1) translate(-422.67 0)" x="418.42" y="822.31" font-size="14.58">1</text><text transform="translate(429.17 0) scale(1.015 1) translate(-429.17 0)" x="427.15" y="822.31" font-size="14.58">.</text><text transform="translate(435.73 0) scale(0.974 1) translate(-435.73 0)" x="431.69" y="822.31" font-size="14.58">5</text><text transform="translate(444.64 0) scale(1.002 1) translate(-444.64 0)" x="440.58" y="822.31" font-size="14.58">0</text></g><g id="text_52"><text transform="translate(478.50 0) scale(0.979 1) translate(-478.50 0)" x="474.24" y="822.31" font-size="14.58">1</text><text transform="translate(484.99 0) scale(1.015 1) translate(-484.99 0)" x="482.97" y="822.31" font-size="14.58">.</text><text transform="translate(491.60 0) scale(0.991 1) translate(-491.60 0)" x="487.54" y="822.31" font-size="14.58">7</text><text transform="translate(500.39 0) scale(0.974 1) translate(-500.39 0)" x="496.35" y="822.31" font-size="14.58">5</text></g><g id="text_53"><text transform="translate(534.22 0) scale(0.984 1) translate(-534.22 0)" x="530.17" y="822.31" font-size="14.58">2</text><text transform="translate(541.03 0) scale(1.015 1) translate(-541.03 0)" x="539.00" y="822.31" font-size="14.58">.</text><text transform="translate(547.66 0) scale(1.002 1) translate(-547.66 0)" x="543.60" y="822.31" font-size="14.58">0</text><text transform="translate(556.49 0) scale(1.002 1) translate(-556.49 0)" x="552.44" y="822.31" font-size="14.58">0</text></g><g id="text_54"><text transform="translate(318.27 0) scale(1.021 1) translate(-318.27 0)" x="314.54" y="841.24" font-size="14.58" font-style="italic">μ</text><text transform="translate(325.63 0) scale(0.992 1) translate(-325.63 0)" x="322.99" y="843.52" font-size="10.21" font-style="italic">L</text></g><g id="text_55"><text transform="translate(59.78 0) scale(1.002 1) translate(-59.78 0)" x="55.72" y="806.35" font-size="14.58">0</text></g><g id="text_56"><text transform="translate(50.87 0) scale(0.974 1) translate(-50.87 0)" x="46.83" y="748.88" font-size="14.58">5</text><text transform="translate(59.78 0) scale(1.002 1) translate(-59.78 0)" x="55.72" y="748.88" font-size="14.58">0</text></g><g id="text_57"><text transform="translate(42.23 0) scale(0.979 1) translate(-42.23 0)" x="37.97" y="692.28" font-size="14.58">1</text><text transform="translate(50.94 0) scale(1.002 1) translate(-50.94 0)" x="46.88" y="692.28" font-size="14.58">0</text><text transform="translate(59.78 0) scale(1.002 1) translate(-59.78 0)" x="55.72" y="692.28" font-size="14.58">0</text></g><g id="text_58"><text transform="translate(42.23 0) scale(0.979 1) translate(-42.23 0)" x="37.97" y="634.02" font-size="14.58">1</text><text transform="translate(50.87 0) scale(0.974 1) translate(-50.87 0)" x="46.83" y="634.02" font-size="14.58">5</text><text transform="translate(59.78 0) scale(1.002 1) translate(-59.78 0)" x="55.72" y="634.02" font-size="14.58">0</text></g><g id="text_59"><text transform="translate(41.92 0) scale(0.984 1) translate(-41.92 0)" x="37.86" y="577.27" font-size="14.58">2</text><text transform="translate(50.94 0) scale(1.002 1) translate(-50.94 0)" x="46.88" y="577.27" font-size="14.58">0</text><text transform="translate(59.78 0) scale(1.002 1) translate(-59.78 0)" x="55.72" y="577.27" font-size="14.58">0</text></g><g id="text_60"><text transform="translate(41.92 0) scale(0.984 1) translate(-41.92 0)" x="37.86" y="520.08" font-size="14.58">2</text><text transform="translate(50.87 0) scale(0.974 1) translate(-50.87 0)" x="46.83" y="520.08" font-size="14.58">5</text><text transform="translate(59.78 0) scale(1.002 1) translate(-59.78 0)" x="55.72" y="520.08" font-size="14.58">0</text></g><g id="text_61"><text transform="translate(42.08 0) scale(0.982 1) translate(-42.08 0)" x="38.07" y="463.31" font-size="14.58">3</text><text transform="translate(50.94 0) scale(1.002 1) translate(-50.94 0)" x="46.88" y="463.31" font-size="14.58">0</text><text transform="translate(59.78 0) scale(1.002 1) translate(-59.78 0)" x="55.72" y="463.31" font-size="14.58">0</text></g><g id="text_62" transform="translate(28.71 627.82) rotate(-90.0)"><text transform="translate(-32.25 0) scale(1.125 1) translate(32.25 0)" x="-34.39" y="0.00" font-size="14.58">f</text><text transform="translate(-26.61 0) scale(1.110 1) translate(26.61 0)" x="-29.40" y="0.00" font-size="14.58">r</text><text transform="translate(-20.10 0) scale(1.014 1) translate(20.10 0)" x="-24.14" y="0.00" font-size="14.58">e</text><text transform="translate(-11.68 0) scale(1.017 1) translate(11.68 0)" x="-15.57" y="0.00" font-size="14.58">q</text><text transform="translate(-2.66 0) scale(1.013 1) translate(2.66 0)" x="-6.71" y="0.00" font-size="14.58">u</text><text transform="translate(6.07 0) scale(1.014 1) translate(-6.07 0)" x="2.03" y="0.00" font-size="14.58">e</text><text transform="translate(14.77 0) scale(1.013 1) translate(-14.77 0)" x="10.70" y="0.00" font-size="14.58">n</text><text transform="translate(22.90 0) scale(0.978 1) translate(-22.90 0)" x="19.14" y="0.00" font-size="14.58">c</text><text transform="translate(30.87 0) scale(1.011 1) translate(-30.87 0)" x="27.22" y="0.00" font-size="14.58">y</text></g><g id="text_63"><path d="M221.87 725.49H230.57V726.63H221.87Z M221.87 728.26H230.57V729.41H221.87Z"/><polygon points="216.83,718.23 217.84,718.23 219.50,720.78 218.55,720.78 217.33,719.12 216.11,720.78 215.17,720.78"/><text transform="translate(236.45 0) scale(1.002 1) translate(-236.45 0)" x="232.40" y="731.80" font-size="14.58">0</text><text transform="translate(243.08 0) scale(1.015 1) translate(-243.08 0)" x="241.05" y="731.80" font-size="14.58">.</text><text transform="translate(249.36 0) scale(1.007 1) translate(-249.36 0)" x="245.30" y="731.80" font-size="14.58">8</text><text transform="translate(258.13 0) scale(0.974 1) translate(-258.13 0)" x="254.09" y="731.80" font-size="14.58">5</text><text transform="translate(267.16 0) scale(0.979 1) translate(-267.16 0)" x="262.90" y="731.80" font-size="14.58">1</text><text transform="translate(275.82 0) scale(1.002 1) translate(-275.82 0)" x="271.81" y="731.80" font-size="14.58">4</text><text transform="translate(282.36 0) scale(1.194 1) translate(-282.36 0)" x="280.33" y="731.80" font-size="14.58">,</text><polygon points="294.38,718.23 295.38,718.23 297.04,720.78 296.10,720.78 294.88,719.12 293.66,720.78 292.72,720.78"/><path d="M302.10 725.49H310.79V726.63H302.10Z M302.10 728.26H310.79V729.41H302.10Z"/><text transform="translate(319.51 0) scale(0.979 1) translate(-319.51 0)" x="315.26" y="731.80" font-size="14.58">1</text><text transform="translate(326.01 0) scale(1.015 1) translate(-326.01 0)" x="323.98" y="731.80" font-size="14.58">.</text><text transform="translate(332.29 0) scale(1.007 1) translate(-332.29 0)" x="328.24" y="731.80" font-size="14.58">8</text><text transform="translate(341.25 0) scale(0.979 1) translate(-341.25 0)" x="337.00" y="731.80" font-size="14.58">1</text><text transform="translate(349.78 0) scale(0.984 1) translate(-349.78 0)" x="345.73" y="731.80" font-size="14.58">2</text><text transform="translate(215.58 0) scale(1.021 1) translate(-215.58 0)" x="211.86" y="731.80" font-size="14.58" font-style="italic">μ</text><text transform="translate(294.09 0) scale(0.977 1) translate(-294.09 0)" x="289.22" y="731.80" font-size="14.58" font-style="italic">σ</text></g><g id="text_64"><path d="M331.05 460.51H339.75V461.65H331.05Z M331.05 463.28H339.75V464.43H331.05Z"/><polygon points="326.01,453.25 327.02,453.25 328.68,455.80 327.73,455.80 326.51,454.14 325.29,455.80 324.35,455.80"/><text transform="translate(345.76 0) scale(0.979 1) translate(-345.76 0)" x="341.51" y="466.82" font-size="14.58">1</text><text transform="translate(352.26 0) scale(1.015 1) translate(-352.26 0)" x="350.23" y="466.82" font-size="14.58">.</text><text transform="translate(358.89 0) scale(1.002 1) translate(-358.89 0)" x="354.83" y="466.82" font-size="14.58">0</text><text transform="translate(367.72 0) scale(1.002 1) translate(-367.72 0)" x="363.67" y="466.82" font-size="14.58">0</text><text transform="translate(376.38 0) scale(0.984 1) translate(-376.38 0)" x="372.32" y="466.82" font-size="14.58">2</text><text transform="translate(383.05 0) scale(1.194 1) translate(-383.05 0)" x="381.02" y="466.82" font-size="14.58">,</text><polygon points="395.07,453.25 396.07,453.25 397.73,455.80 396.79,455.80 395.57,454.14 394.35,455.80 393.41,455.80"/><path d="M402.79 460.51H411.48V461.65H402.79Z M402.79 463.28H411.48V464.43H402.79Z"/><text transform="translate(420.08 0) scale(1.002 1) translate(-420.08 0)" x="416.02" y="466.82" font-size="14.58">0</text><text transform="translate(426.70 0) scale(1.015 1) translate(-426.70 0)" x="424.67" y="466.82" font-size="14.58">.</text><text transform="translate(433.33 0) scale(1.002 1) translate(-433.33 0)" x="429.27" y="466.82" font-size="14.58">0</text><text transform="translate(442.16 0) scale(1.002 1) translate(-442.16 0)" x="438.11" y="466.82" font-size="14.58">0</text><text transform="translate(451.00 0) scale(1.002 1) translate(-451.00 0)" x="446.95" y="466.82" font-size="14.58">0</text><text transform="translate(459.82 0) scale(0.991 1) translate(-459.82 0)" x="455.76" y="466.82" font-size="14.58">7</text><text transform="translate(468.67 0) scale(1.002 1) translate(-468.67 0)" x="464.62" y="466.82" font-size="14.58">0</text><text transform="translate(477.51 0) scale(1.002 1) translate(-477.51 0)" x="473.46" y="466.82" font-size="14.58">0</text><text transform="translate(486.30 0) scale(1.002 1) translate(-486.30 0)" x="482.29" y="466.82" font-size="14.58">4</text><text transform="translate(324.76 0) scale(1.021 1) translate(-324.76 0)" x="321.04" y="466.82" font-size="14.58" font-style="italic">μ</text><text transform="translate(394.78 0) scale(0.977 1) translate(-394.78 0)" x="389.91" y="466.82" font-size="14.58" font-style="italic">σ</text></g><g id="text_65"><text transform="translate(305.18 0) scale(1.019 1) translate(-305.18 0)" x="298.53" y="443.38" font-size="17.50" font-style="italic">T</text><path d="M311.14 435.81H321.57V437.18H311.14Z M311.14 439.13H321.57V440.51H311.14Z"/><text transform="translate(328.78 0) scale(0.979 1) translate(-328.78 0)" x="323.68" y="443.38" font-size="17.50">1</text><text transform="translate(339.24 0) scale(1.002 1) translate(-339.24 0)" x="334.37" y="443.38" font-size="17.50">0</text></g><g id="text_68"><text transform="translate(678.60 0) scale(1.002 1) translate(-678.60 0)" x="674.54" y="822.31" font-size="14.58">0</text><text transform="translate(685.22 0) scale(1.015 1) translate(-685.22 0)" x="683.20" y="822.31" font-size="14.58">.</text><text transform="translate(691.85 0) scale(1.002 1) translate(-691.85 0)" x="687.80" y="822.31" font-size="14.58">0</text><text transform="translate(700.69 0) scale(1.002 1) translate(-700.69 0)" x="696.63" y="822.31" font-size="14.58">0</text></g><g id="text_69"><text transform="translate(734.18 0) scale(1.002 1) translate(-734.18 0)" x="730.13" y="822.31" font-size="14.58">0</text><text transform="translate(740.81 0) scale(1.015 1) translate(-740.81 0)" x="738.78" y="822.31" font-size="14.58">.</text><text transform="translate(747.25 0) scale(0.984 1) translate(-747.25 0)" x="743.20" y="822.31" font-size="14.58">2</text><text transform="translate(756.20 0) scale(0.974 1) translate(-756.20 0)" x="752.16" y="822.31" font-size="14.58">5</text></g><g id="text_70"><text transform="translate(790.58 0) scale(1.002 1) translate(-790.58 0)" x="786.52" y="822.31" font-size="14.58">0</text><text transform="translate(797.20 0) scale(1.015 1) translate(-797.20 0)" x="795.17" y="822.31" font-size="14.58">.</text><text transform="translate(803.76 0) scale(0.974 1) translate(-803.76 0)" x="799.72" y="822.31" font-size="14.58">5</text><text transform="translate(812.66 0) scale(1.002 1) translate(-812.66 0)" x="808.61" y="822.31" font-size="14.58">0</text></g><g id="text_71"><text transform="translate(846.27 0) scale(1.002 1) translate(-846.27 0)" x="842.21" y="822.31" font-size="14.58">0</text><text transform="translate(852.89 0) scale(1.015 1) translate(-852.89 0)" x="850.87" y="822.31" font-size="14.58">.</text><text transform="translate(859.50 0) scale(0.991 1) translate(-859.50 0)" x="855.44" y="822.31" font-size="14.58">7</text><text transform="translate(868.29 0) scale(0.974 1) translate(-868.29 0)" x="864.25" y="822.31" font-size="14.58">5</text></g><g id="text_72"><text transform="translate(901.55 0) scale(0.979 1) translate(-901.55 0)" x="897.29" y="822.31" font-size="14.58">1</text><text transform="translate(908.04 0) scale(1.015 1) translate(-908.04 0)" x="906.02" y="822.31" font-size="14.58">.</text><text transform="translate(914.67 0) scale(1.002 1) translate(-914.67 0)" x="910.62" y="822.31" font-size="14.58">0</text><text transform="translate(923.51 0) scale(1.002 1) translate(-923.51 0)" x="919.46" y="822.31" font-size="14.58">0</text></g><g id="text_73"><text transform="translate(957.48 0) scale(0.979 1) translate(-957.48 0)" x="953.23" y="822.31" font-size="14.58">1</text><text transform="translate(963.98 0) scale(1.015 1) translate(-963.98 0)" x="961.95" y="822.31" font-size="14.58">.</text><text transform="translate(970.42 0) scale(0.984 1) translate(-970.42 0)" x="966.37" y="822.31" font-size="14.58">2</text><text transform="translate(979.38 0) scale(0.974 1) translate(-979.38 0)" x="975.33" y="822.31" font-size="14.58">5</text></g><g id="text_74"><text transform="translate(1013.67 0) scale(0.979 1) translate(-1013.67 0)" x="1009.42" y="822.31" font-size="14.58">1</text><text transform="translate(1020.17 0) scale(1.015 1) translate(-1020.17 0)" x="1018.15" y="822.31" font-size="14.58">.</text><text transform="translate(1026.73 0) scale(0.974 1) translate(-1026.73 0)" x="1022.69" y="822.31" font-size="14.58">5</text><text transform="translate(1035.64 0) scale(1.002 1) translate(-1035.64 0)" x="1031.58" y="822.31" font-size="14.58">0</text></g><g id="text_75"><text transform="translate(1070.43 0) scale(0.979 1) translate(-1070.43 0)" x="1066.18" y="822.31" font-size="14.58">1</text><text transform="translate(1076.93 0) scale(1.015 1) translate(-1076.93 0)" x="1074.90" y="822.31" font-size="14.58">.</text><text transform="translate(1083.54 0) scale(0.991 1) translate(-1083.54 0)" x="1079.48" y="822.31" font-size="14.58">7</text><text transform="translate(1092.33 0) scale(0.974 1) translate(-1092.33 0)" x="1088.29" y="822.31" font-size="14.58">5</text></g><g id="text_76"><text transform="translate(1126.22 0) scale(0.984 1) translate(-1126.22 0)" x="1122.17" y="822.31" font-size="14.58">2</text><text transform="translate(1133.03 0) scale(1.015 1) translate(-1133.03 0)" x="1131.00" y="822.31" font-size="14.58">.</text><text transform="translate(1139.66 0) scale(1.002 1) translate(-1139.66 0)" x="1135.60" y="822.31" font-size="14.58">0</text><text transform="translate(1148.49 0) scale(1.002 1) translate(-1148.49 0)" x="1144.44" y="822.31" font-size="14.58">0</text></g><g id="text_77"><text transform="translate(910.18 0) scale(1.021 1) translate(-910.18 0)" x="906.45" y="841.26" font-size="14.58" font-style="italic">μ</text><text transform="translate(917.54 0) scale(0.992 1) translate(-917.54 0)" x="914.90" y="843.54" font-size="10.21" font-style="italic">L</text></g><g id="text_78"><text transform="translate(651.60 0) scale(1.002 1) translate(-651.60 0)" x="647.54" y="806.34" font-size="14.58">0</text></g><g id="text_79"><text transform="translate(642.58 0) scale(0.984 1) translate(-642.58 0)" x="638.52" y="746.32" font-size="14.58">2</text><text transform="translate(651.60 0) scale(1.002 1) translate(-651.60 0)" x="647.54" y="746.32" font-size="14.58">0</text></g><g id="text_80"><text transform="translate(642.71 0) scale(1.002 1) translate(-642.71 0)" x="638.70" y="684.78" font-size="14.58">4</text><text transform="translate(651.60 0) scale(1.002 1) translate(-651.60 0)" x="647.54" y="684.78" font-size="14.58">0</text></g><g id="text_81"><text transform="translate(642.81 0) scale(1.020 1) translate(-642.81 0)" x="638.71" y="624.04" font-size="14.58">6</text><text transform="translate(651.60 0) scale(1.002 1) translate(-651.60 0)" x="647.54" y="624.04" font-size="14.58">0</text></g><g id="text_82"><text transform="translate(642.76 0) scale(1.007 1) translate(-642.76 0)" x="638.70" y="563.53" font-size="14.58">8</text><text transform="translate(651.60 0) scale(1.002 1) translate(-651.60 0)" x="647.54" y="563.53" font-size="14.58">0</text></g><g id="text_83"><text transform="translate(634.05 0) scale(0.979 1) translate(-634.05 0)" x="629.79" y="502.80" font-size="14.58">1</text><text transform="translate(642.76 0) scale(1.002 1) translate(-642.76 0)" x="638.70" y="502.80" font-size="14.58">0</text><text transform="translate(651.60 0) scale(1.002 1) translate(-651.60 0)" x="647.54" y="502.80" font-size="14.58">0</text></g><g id="text_84" transform="translate(620.04 627.82) rotate(-90.0)"><text transform="translate(-32.25 0) scale(1.125 1) translate(32.25 0)" x="-34.39" y="0.00" font-size="14.58">f</text><text transform="translate(-26.61 0) scale(1.110 1) translate(26.61 0)" x="-29.40" y="0.00" font-size="14.58">r</text><text transform="translate(-20.10 0) scale(1.014 1) translate(20.10 0)" x="-24.14" y="0.00" font-size="14.58">e</text><text transform="translate(-11.68 0) scale(1.017 1) translate(11.68 0)" x="-15.57" y="0.00" font-size="14.58">q</text><text transform="translate(-2.66 0) scale(1.013 1) translate(2.66 0)" x="-6.71" y="0.00" font-size="14.58">u</text><text transform="translate(6.07 0) scale(1.014 1) translate(-6.07 0)" x="2.03" y="0.00" font-size="14.58">e</text><text transform="translate(14.77 0) scale(1.013 1) translate(-14.77 0)" x="10.70" y="0.00" font-size="14.58">n</text><text transform="translate(22.90 0) scale(0.978 1) translate(-22.90 0)" x="19.14" y="0.00" font-size="14.58">c</text><text transform="translate(30.87 0) scale(1.011 1) translate(-30.87 0)" x="27.22" y="0.00" font-size="14.58">y</text></g><g id="text_85"><path d="M732.41 490.50H741.10V491.64H732.41Z M732.41 493.27H741.10V494.42H732.41Z"/><polygon points="727.36,483.24 728.37,483.24 730.03,485.79 729.09,485.79 727.87,484.13 726.65,485.79 725.70,485.79"/><text transform="translate(746.99 0) scale(1.002 1) translate(-746.99 0)" x="742.93" y="496.81" font-size="14.58">0</text><text transform="translate(753.61 0) scale(1.015 1) translate(-753.61 0)" x="751.58" y="496.81" font-size="14.58">.</text><text transform="translate(760.29 0) scale(1.020 1) translate(-760.29 0)" x="756.18" y="496.81" font-size="14.58">6</text><text transform="translate(769.01 0) scale(0.974 1) translate(-769.01 0)" x="764.97" y="496.81" font-size="14.58">5</text><text transform="translate(778.04 0) scale(0.979 1) translate(-778.04 0)" x="773.78" y="496.81" font-size="14.58">1</text><text transform="translate(786.73 0) scale(0.991 1) translate(-786.73 0)" x="782.67" y="496.81" font-size="14.58">7</text><text transform="translate(793.23 0) scale(1.194 1) translate(-793.23 0)" x="791.21" y="496.81" font-size="14.58">,</text><polygon points="805.26,483.24 806.26,483.24 807.92,485.79 806.98,485.79 805.76,484.13 804.54,485.79 803.60,485.79"/><path d="M812.98 490.50H821.67V491.64H812.98Z M812.98 493.27H821.67V494.42H812.98Z"/><text transform="translate(830.08 0) scale(0.984 1) translate(-830.08 0)" x="826.03" y="496.81" font-size="14.58">2</text><text transform="translate(839.10 0) scale(1.002 1) translate(-839.10 0)" x="835.05" y="496.81" font-size="14.58">0</text><text transform="translate(845.73 0) scale(1.015 1) translate(-845.73 0)" x="843.70" y="496.81" font-size="14.58">.</text><text transform="translate(852.29 0) scale(0.974 1) translate(-852.29 0)" x="848.25" y="496.81" font-size="14.58">5</text><text transform="translate(860.13 0) scale(0.991 1) translate(-860.13 0)" x="856.07" y="496.81" font-size="14.58">7</text><text transform="translate(726.12 0) scale(1.021 1) translate(-726.12 0)" x="722.39" y="496.81" font-size="14.58" font-style="italic">μ</text><text transform="translate(804.97 0) scale(0.977 1) translate(-804.97 0)" x="800.10" y="496.81" font-size="14.58" font-style="italic">σ</text></g><g id="text_86"><path d="M917.87 460.52H926.56V461.66H917.87Z M917.87 463.29H926.56V464.44H917.87Z"/><polygon points="912.82,453.26 913.83,453.26 915.49,455.81 914.55,455.81 913.33,454.15 912.10,455.81 911.16,455.81"/><text transform="translate(932.57 0) scale(0.979 1) translate(-932.57 0)" x="928.32" y="466.83" font-size="14.58">1</text><text transform="translate(939.07 0) scale(1.015 1) translate(-939.07 0)" x="937.04" y="466.83" font-size="14.58">.</text><text transform="translate(945.70 0) scale(1.002 1) translate(-945.70 0)" x="941.64" y="466.83" font-size="14.58">0</text><text transform="translate(954.53 0) scale(1.002 1) translate(-954.53 0)" x="950.48" y="466.83" font-size="14.58">0</text><text transform="translate(963.19 0) scale(0.984 1) translate(-963.19 0)" x="959.13" y="466.83" font-size="14.58">2</text><text transform="translate(969.86 0) scale(1.194 1) translate(-969.86 0)" x="967.83" y="466.83" font-size="14.58">,</text><polygon points="981.88,453.26 982.88,453.26 984.54,455.81 983.60,455.81 982.38,454.15 981.16,455.81 980.22,455.81"/><path d="M989.60 460.52H998.30V461.66H989.60Z M989.60 463.29H998.30V464.44H989.60Z"/><text transform="translate(1006.89 0) scale(1.002 1) translate(-1006.89 0)" x="1002.83" y="466.83" font-size="14.58">0</text><text transform="translate(1013.51 0) scale(1.015 1) translate(-1013.51 0)" x="1011.48" y="466.83" font-size="14.58">.</text><text transform="translate(1020.14 0) scale(1.002 1) translate(-1020.14 0)" x="1016.08" y="466.83" font-size="14.58">0</text><text transform="translate(1028.98 0) scale(1.002 1) translate(-1028.98 0)" x="1024.92" y="466.83" font-size="14.58">0</text><text transform="translate(1037.86 0) scale(1.020 1) translate(-1037.86 0)" x="1033.76" y="466.83" font-size="14.58">6</text><text transform="translate(1046.60 0) scale(1.018 1) translate(-1046.60 0)" x="1042.55" y="466.83" font-size="14.58">9</text><text transform="translate(1055.49 0) scale(1.002 1) translate(-1055.49 0)" x="1051.43" y="466.83" font-size="14.58">0</text><text transform="translate(1064.45 0) scale(0.979 1) translate(-1064.45 0)" x="1060.19" y="466.83" font-size="14.58">1</text><text transform="translate(911.58 0) scale(1.021 1) translate(-911.58 0)" x="907.85" y="466.83" font-size="14.58" font-style="italic">μ</text><text transform="translate(981.59 0) scale(0.977 1) translate(-981.59 0)" x="976.73" y="466.83" font-size="14.58" font-style="italic">σ</text></g><g id="text_87"><text transform="translate(897.23 0) scale(1.019 1) translate(-897.23 0)" x="890.58" y="443.38" font-size="17.50" font-style="italic">T</text><path d="M903.19 435.81H913.62V437.18H903.19Z M903.19 439.13H913.62V440.51H903.19Z"/><text transform="translate(920.46 0) scale(0.984 1) translate(-920.46 0)" x="915.60" y="443.38" font-size="17.50">2</text><text transform="translate(931.29 0) scale(1.002 1) translate(-931.29 0)" x="926.42" y="443.38" font-size="17.50">0</text></g><g id="leg0g"><text transform="translate(470.72 0) scale(0.992 1) translate(-470.72 0)" x="466.72" y="338.60" font-size="14.58" font-style="italic">g</text><text transform="translate(483.75 0) scale(1.018 1) translate(-483.75 0)" x="479.86" y="338.60" font-size="14.58">g</text><text transform="translate(492.69 0) scale(1.014 1) translate(-492.69 0)" x="488.65" y="338.60" font-size="14.58">e</text><text transform="translate(501.39 0) scale(1.013 1) translate(-501.39 0)" x="497.33" y="338.60" font-size="14.58">n</text><text transform="translate(510.04 0) scale(1.014 1) translate(-510.04 0)" x="506.00" y="338.60" font-size="14.58">e</text><text transform="translate(517.79 0) scale(1.110 1) translate(-517.79 0)" x="514.99" y="338.60" font-size="14.58">r</text><text transform="translate(524.05 0) scale(0.928 1) translate(-524.05 0)" x="519.69" y="338.60" font-size="14.58">a</text><text transform="translate(531.26 0) scale(1.136 1) translate(-531.26 0)" x="529.18" y="338.60" font-size="14.58">t</text><text transform="translate(535.90 0) scale(0.987 1) translate(-535.90 0)" x="534.28" y="338.60" font-size="14.58">i</text><text transform="translate(542.27 0) scale(1.013 1) translate(-542.27 0)" x="538.20" y="338.60" font-size="14.58">n</text><text transform="translate(550.79 0) scale(1.018 1) translate(-550.79 0)" x="546.90" y="338.60" font-size="14.58">g</text></g><g id="leg0h"><text transform="translate(470.53 0) scale(1.012 1) translate(-470.53 0)" x="466.69" y="363.80" font-size="14.58" font-style="italic">h</text><text transform="translate(483.74 0) scale(1.018 1) translate(-483.74 0)" x="479.85" y="363.80" font-size="14.58">g</text><text transform="translate(492.68 0) scale(1.014 1) translate(-492.68 0)" x="488.64" y="363.80" font-size="14.58">e</text><text transform="translate(501.38 0) scale(1.013 1) translate(-501.38 0)" x="497.31" y="363.80" font-size="14.58">n</text><text transform="translate(510.03 0) scale(1.014 1) translate(-510.03 0)" x="505.99" y="363.80" font-size="14.58">e</text><text transform="translate(517.77 0) scale(1.110 1) translate(-517.77 0)" x="514.98" y="363.80" font-size="14.58">r</text><text transform="translate(524.04 0) scale(0.928 1) translate(-524.04 0)" x="519.67" y="363.80" font-size="14.58">a</text><text transform="translate(531.25 0) scale(1.136 1) translate(-531.25 0)" x="529.17" y="363.80" font-size="14.58">t</text><text transform="translate(535.89 0) scale(0.987 1) translate(-535.89 0)" x="534.27" y="363.80" font-size="14.58">i</text><text transform="translate(542.25 0) scale(1.013 1) translate(-542.25 0)" x="538.19" y="363.80" font-size="14.58">n</text><text transform="translate(550.78 0) scale(1.018 1) translate(-550.78 0)" x="546.88" y="363.80" font-size="14.58">g</text></g><g id="leg1g"><text transform="translate(1062.54 0) scale(0.992 1) translate(-1062.54 0)" x="1058.54" y="338.60" font-size="14.58" font-style="italic">g</text><text transform="translate(1075.57 0) scale(1.018 1) translate(-1075.57 0)" x="1071.68" y="338.60" font-size="14.58">g</text><text transform="translate(1084.51 0) scale(1.014 1) translate(-1084.51 0)" x="1080.47" y="338.60" font-size="14.58">e</text><text transform="translate(1093.21 0) scale(1.013 1) translate(-1093.21 0)" x="1089.15" y="338.60" font-size="14.58">n</text><text transform="translate(1101.86 0) scale(1.014 1) translate(-1101.86 0)" x="1097.82" y="338.60" font-size="14.58">e</text><text transform="translate(1109.61 0) scale(1.110 1) translate(-1109.61 0)" x="1106.81" y="338.60" font-size="14.58">r</text><text transform="translate(1115.87 0) scale(0.928 1) translate(-1115.87 0)" x="1111.51" y="338.60" font-size="14.58">a</text><text transform="translate(1123.08 0) scale(1.136 1) translate(-1123.08 0)" x="1121.00" y="338.60" font-size="14.58">t</text><text transform="translate(1127.72 0) scale(0.987 1) translate(-1127.72 0)" x="1126.10" y="338.60" font-size="14.58">i</text><text transform="translate(1134.09 0) scale(1.013 1) translate(-1134.09 0)" x="1130.02" y="338.60" font-size="14.58">n</text><text transform="translate(1142.61 0) scale(1.018 1) translate(-1142.61 0)" x="1138.72" y="338.60" font-size="14.58">g</text></g><g id="leg1h"><text transform="translate(1062.35 0) scale(1.012 1) translate(-1062.35 0)" x="1058.51" y="363.80" font-size="14.58" font-style="italic">h</text><text transform="translate(1075.56 0) scale(1.018 1) translate(-1075.56 0)" x="1071.67" y="363.80" font-size="14.58">g</text><text transform="translate(1084.50 0) scale(1.014 1) translate(-1084.50 0)" x="1080.46" y="363.80" font-size="14.58">e</text><text transform="translate(1093.20 0) scale(1.013 1) translate(-1093.20 0)" x="1089.13" y="363.80" font-size="14.58">n</text><text transform="translate(1101.85 0) scale(1.014 1) translate(-1101.85 0)" x="1097.81" y="363.80" font-size="14.58">e</text><text transform="translate(1109.59 0) scale(1.110 1) translate(-1109.59 0)" x="1106.80" y="363.80" font-size="14.58">r</text><text transform="translate(1115.86 0) scale(0.928 1) translate(-1115.86 0)" x="1111.49" y="363.80" font-size="14.58">a</text><text transform="translate(1123.07 0) scale(1.136 1) translate(-1123.07 0)" x="1120.99" y="363.80" font-size="14.58">t</text><text transform="translate(1127.71 0) scale(0.987 1) translate(-1127.71 0)" x="1126.09" y="363.80" font-size="14.58">i</text><text transform="translate(1134.07 0) scale(1.013 1) translate(-1134.07 0)" x="1130.01" y="363.80" font-size="14.58">n</text><text transform="translate(1142.60 0) scale(1.018 1) translate(-1142.60 0)" x="1138.70" y="363.80" font-size="14.58">g</text></g><g id="leg2g"><text transform="translate(470.72 0) scale(0.992 1) translate(-470.72 0)" x="466.72" y="758.60" font-size="14.58" font-style="italic">g</text><text transform="translate(483.75 0) scale(1.018 1) translate(-483.75 0)" x="479.86" y="758.60" font-size="14.58">g</text><text transform="translate(492.69 0) scale(1.014 1) translate(-492.69 0)" x="488.65" y="758.60" font-size="14.58">e</text><text transform="translate(501.39 0) scale(1.013 1) translate(-501.39 0)" x="497.33" y="758.60" font-size="14.58">n</text><text transform="translate(510.04 0) scale(1.014 1) translate(-510.04 0)" x="506.00" y="758.60" font-size="14.58">e</text><text transform="translate(517.79 0) scale(1.110 1) translate(-517.79 0)" x="514.99" y="758.60" font-size="14.58">r</text><text transform="translate(524.05 0) scale(0.928 1) translate(-524.05 0)" x="519.69" y="758.60" font-size="14.58">a</text><text transform="translate(531.26 0) scale(1.136 1) translate(-531.26 0)" x="529.18" y="758.60" font-size="14.58">t</text><text transform="translate(535.90 0) scale(0.987 1) translate(-535.90 0)" x="534.28" y="758.60" font-size="14.58">i</text><text transform="translate(542.27 0) scale(1.013 1) translate(-542.27 0)" x="538.20" y="758.60" font-size="14.58">n</text><text transform="translate(550.79 0) scale(1.018 1) translate(-550.79 0)" x="546.90" y="758.60" font-size="14.58">g</text></g><g id="leg2h"><text transform="translate(470.53 0) scale(1.012 1) translate(-470.53 0)" x="466.69" y="783.80" font-size="14.58" font-style="italic">h</text><text transform="translate(483.74 0) scale(1.018 1) translate(-483.74 0)" x="479.85" y="783.80" font-size="14.58">g</text><text transform="translate(492.68 0) scale(1.014 1) translate(-492.68 0)" x="488.64" y="783.80" font-size="14.58">e</text><text transform="translate(501.38 0) scale(1.013 1) translate(-501.38 0)" x="497.31" y="783.80" font-size="14.58">n</text><text transform="translate(510.03 0) scale(1.014 1) translate(-510.03 0)" x="505.99" y="783.80" font-size="14.58">e</text><text transform="translate(517.77 0) scale(1.110 1) translate(-517.77 0)" x="514.98" y="783.80" font-size="14.58">r</text><text transform="translate(524.04 0) scale(0.928 1) translate(-524.04 0)" x="519.67" y="783.80" font-size="14.58">a</text><text transform="translate(531.25 0) scale(1.136 1) translate(-531.25 0)" x="529.17" y="783.80" font-size="14.58">t</text><text transform="translate(535.89 0) scale(0.987 1) translate(-535.89 0)" x="534.27" y="783.80" font-size="14.58">i</text><text transform="translate(542.25 0) scale(1.013 1) translate(-542.25 0)" x="538.19" y="783.80" font-size="14.58">n</text><text transform="translate(550.78 0) scale(1.018 1) translate(-550.78 0)" x="546.88" y="783.80" font-size="14.58">g</text></g><g id="leg3g"><text transform="translate(1062.54 0) scale(0.992 1) translate(-1062.54 0)" x="1058.54" y="758.60" font-size="14.58" font-style="italic">g</text><text transform="translate(1075.57 0) scale(1.018 1) translate(-1075.57 0)" x="1071.68" y="758.60" font-size="14.58">g</text><text transform="translate(1084.51 0) scale(1.014 1) translate(-1084.51 0)" x="1080.47" y="758.60" font-size="14.58">e</text><text transform="translate(1093.21 0) scale(1.013 1) translate(-1093.21 0)" x="1089.15" y="758.60" font-size="14.58">n</text><text transform="translate(1101.86 0) scale(1.014 1) translate(-1101.86 0)" x="1097.82" y="758.60" font-size="14.58">e</text><text transform="translate(1109.61 0) scale(1.110 1) translate(-1109.61 0)" x="1106.81" y="758.60" font-size="14.58">r</text><text transform="translate(1115.87 0) scale(0.928 1) translate(-1115.87 0)" x="1111.51" y="758.60" font-size="14.58">a</text><text transform="translate(1123.08 0) scale(1.136 1) translate(-1123.08 0)" x="1121.00" y="758.60" font-size="14.58">t</text><text transform="translate(1127.72 0) scale(0.987 1) translate(-1127.72 0)" x="1126.10" y="758.60" font-size="14.58">i</text><text transform="translate(1134.09 0) scale(1.013 1) translate(-1134.09 0)" x="1130.02" y="758.60" font-size="14.58">n</text><text transform="translate(1142.61 0) scale(1.018 1) translate(-1142.61 0)" x="1138.72" y="758.60" font-size="14.58">g</text></g><g id="leg3h"><text transform="translate(1062.35 0) scale(1.012 1) translate(-1062.35 0)" x="1058.51" y="783.80" font-size="14.58" font-style="italic">h</text><text transform="translate(1075.56 0) scale(1.018 1) translate(-1075.56 0)" x="1071.67" y="783.80" font-size="14.58">g</text><text transform="translate(1084.50 0) scale(1.014 1) translate(-1084.50 0)" x="1080.46" y="783.80" font-size="14.58">e</text><text transform="translate(1093.20 0) scale(1.013 1) translate(-1093.20 0)" x="1089.13" y="783.80" font-size="14.58">n</text><text transform="translate(1101.85 0) scale(1.014 1) translate(-1101.85 0)" x="1097.81" y="783.80" font-size="14.58">e</text><text transform="translate(1109.59 0) scale(1.110 1) translate(-1109.59 0)" x="1106.80" y="783.80" font-size="14.58">r</text><text transform="translate(1115.86 0) scale(0.928 1) translate(-1115.86 0)" x="1111.49" y="783.80" font-size="14.58">a</text><text transform="translate(1123.07 0) scale(1.136 1) translate(-1123.07 0)" x="1120.99" y="783.80" font-size="14.58">t</text><text transform="translate(1127.71 0) scale(0.987 1) translate(-1127.71 0)" x="1126.09" y="783.80" font-size="14.58">i</text><text transform="translate(1134.07 0) scale(1.013 1) translate(-1134.07 0)" x="1130.01" y="783.80" font-size="14.58">n</text><text transform="translate(1142.60 0) scale(1.018 1) translate(-1142.60 0)" x="1138.70" y="783.80" font-size="14.58">g</text></g></g></svg></body></html>
